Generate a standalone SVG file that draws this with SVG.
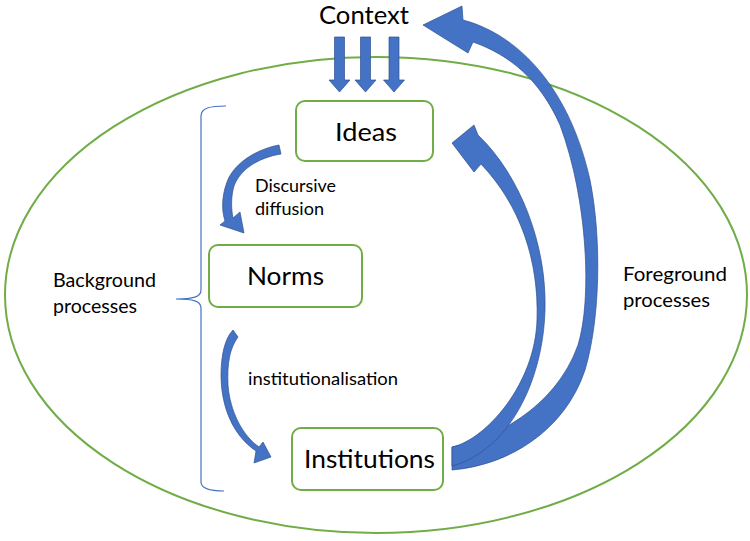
<svg xmlns="http://www.w3.org/2000/svg" width="750" height="541" viewBox="0 0 750 541">
<style>
.box{fill:#fff;stroke:#70AD47;stroke-width:2}
.big{font-family:Lato,"Open Sans",sans-serif;font-size:25px;fill:#000}
.lbl{font-family:Lato,"Open Sans",sans-serif;font-size:18px;fill:#000}
.side{font-family:Lato,"Open Sans",sans-serif;font-size:19px;fill:#000}
.arr{fill:#4472C4;stroke:#2F528F;stroke-width:0.7;stroke-linejoin:round}
</style>
<defs>
<path id="down" d="M-5,0 H5 V43 H10.5 L0,55 L-10.5,43 H-5 Z"/>
</defs>
<rect width="750" height="541" fill="#fff"/>
<g id="boundary">
<ellipse cx="376" cy="295" rx="371" ry="238" fill="none" stroke="#70AD47" stroke-width="2"/>
</g>
<g id="bracket">
<path d="M226,106 C210,106 201,108 201,116 L201,290 C201,297 193,299 176,299 C193,299 201,301 201,308 L201,482 C201,489 210,491 224,491" fill="none" stroke="#4472C4" stroke-width="1.2"/>
</g>
<g id="node-context">
<text class="big" x="319" y="23.5" font-size="23" textLength="90" lengthAdjust="spacingAndGlyphs">Context</text>
</g>
<g id="node-ideas">
<rect class="box" x="296" y="101" width="137" height="60" rx="9"/>
<text class="big" x="335" y="141" textLength="62" lengthAdjust="spacingAndGlyphs">Ideas</text>
</g>
<g id="node-norms">
<rect class="box" x="209" y="245" width="153" height="62" rx="9"/>
<text class="big" x="247" y="285" textLength="77" lengthAdjust="spacingAndGlyphs">Norms</text>
</g>
<g id="node-institutions">
<rect class="box" x="292" y="428" width="151" height="62" rx="9"/>
<text class="big" x="304" y="468" textLength="131" lengthAdjust="spacingAndGlyphs">Institutions</text>
</g>
<g id="labels">
<text class="lbl" x="255" y="192" textLength="81" lengthAdjust="spacingAndGlyphs">Discursive</text>
<text class="lbl" x="255" y="215" textLength="69" lengthAdjust="spacingAndGlyphs">diffusion</text>
<text class="lbl" x="248" y="385" textLength="150" lengthAdjust="spacingAndGlyphs">institutionalisation</text>
<text class="side" x="53" y="287" textLength="103" lengthAdjust="spacingAndGlyphs">Background</text>
<text class="side" x="53" y="313" textLength="84" lengthAdjust="spacingAndGlyphs">processes</text>
<text class="side" x="623" y="281" textLength="104" lengthAdjust="spacingAndGlyphs">Foreground</text>
<text class="side" x="623" y="307" textLength="87" lengthAdjust="spacingAndGlyphs">processes</text>
</g>
<g id="connectors">
<use href="#down" class="arr" transform="translate(339.5,37)"/>
<use href="#down" class="arr" transform="translate(365.5,37)"/>
<use href="#down" class="arr" transform="translate(394,37)"/>
<path class="arr" d="M279,145 C262,148 235,160 227,182 C221,198 222,212 225,221 L220,225 L244,233 L240,212 L233,218 C231,208 231,196 234,186 C240,170 257,158 281,154 Z"/>
<path class="arr" d="M233,330 C225,338 221,355 221,375 C221,405 232,435 256,451 L254,463 L271,457 L263,442 L259,447 C243,436 230,412 228,385 C227,362 230,348 238,337 Z"/>
<path class="arr" d="M452,447 C490,440 555,410 578,345 C592,300 588,200 560,125 C540,80 510,55 473,42 L468,53 L423,25 L462,6 L463,20 C520,35 570,90 590,180 C602,240 600,320 585,370 C565,430 510,465 452,470 Z"/>
<path class="arr" d="M452,447 C485,440 535,385 537,320 C539,260 520,205 481,164 L474,172 L452,143 L474,125 L478,135 C520,175 547,245 545,310 C543,380 510,450 452,466 Z"/>
</g>
</svg>
